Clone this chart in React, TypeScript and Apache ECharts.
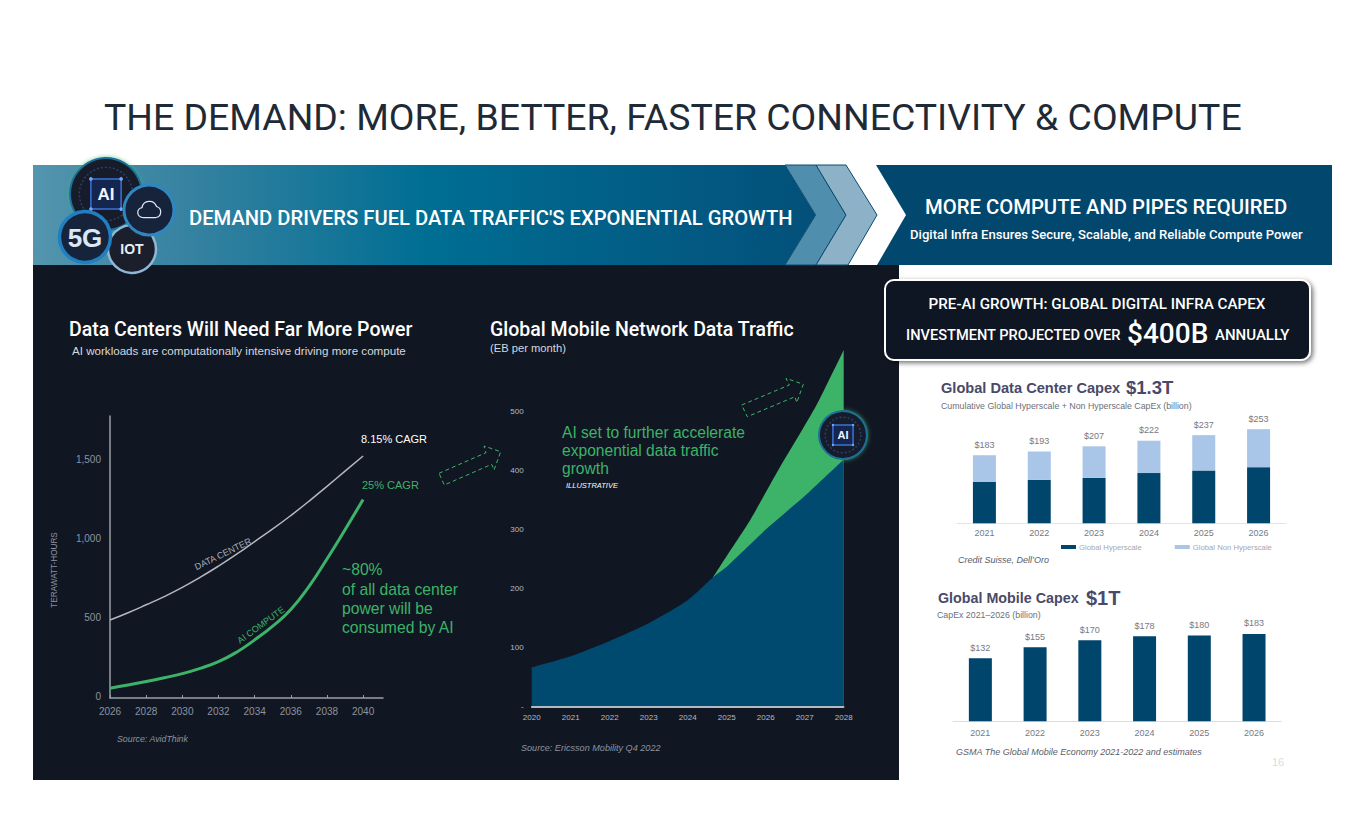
import React, { useEffect, useRef } from "react";
import * as echarts from "echarts";

const FONT = '"Liberation Sans", Arial, sans-serif';
const HEAD = 'Roboto, "Liberation Sans", sans-serif';

// Chart 1: power demand (TWh)
const powerYears = [2026, 2027, 2028, 2029, 2030, 2031, 2032, 2033, 2034, 2035, 2036, 2037, 2038, 2039, 2040];
const dataCenterTwh = [494, 540, 590, 642, 700, 765, 835, 910, 990, 1070, 1155, 1245, 1340, 1436, 1532];
const aiComputeTwh = [62, 82, 104, 128, 154, 188, 230, 290, 368, 455, 560, 705, 880, 1065, 1257];
const powerXTicks = [2026, 2028, 2030, 2032, 2034, 2036, 2038, 2040];
const powerYTicks = [0, 500, 1000, 1500];

// Chart 2: mobile traffic (EB per month)
const trafficYears = [2020, 2021, 2022, 2023, 2024, 2024.65, 2025, 2026, 2027, 2028];
const trafficBase = [66, 85, 111, 141, 180, 219, 237, 300, 357, 419];
const trafficAiYears = [2024.65, 2025, 2025.6, 2026.28, 2027.3, 2028];
const trafficWithAi = [219, 255, 316, 396, 511, 605];
const trafficXTicks = [2020, 2021, 2022, 2023, 2024, 2025, 2026, 2027, 2028];
const trafficYTicks = [0, 100, 200, 300, 400, 500];

// Chart 3: data center capex
const capexYears = ["2021", "2022", "2023", "2024", "2025", "2026"];
const hyperscale = [111, 117, 122, 135, 142, 151];
const nonHyperscale = [72, 76, 85, 87, 95, 102];
const capexTotals = [183, 193, 207, 222, 237, 253];

// Chart 4: mobile capex
const mobileCapex = [132, 155, 170, 178, 180, 183];

const BG = "#111722";
const GREEN = "#3cb368";
const NAVY = "#00456b";
const LIGHT = "#a9c6e8";
const SLATE = "#4a4a68";

type Extra = Record<string, any>;
const txt = (text: string, x: number, y: number, size: number, fill: string, extra: Extra = {}) => {
  const { weight, italic, align, rotation, z, family } = extra;
  return {
    type: "text",
    x,
    y,
    rotation: rotation ?? 0,
    z: z ?? 10,
    style: {
      text,
      fill,
      fontFamily: family ?? FONT,
      fontSize: size,
      fontWeight: weight ?? "normal",
      fontStyle: italic ? "italic" : "normal",
      textAlign: align ?? "left",
      textVerticalAlign: "middle",
    },
  };
};

const poly = (points: number[][], style: Extra, z = -1) => ({ type: "polygon", z, shape: { points }, style });
const circ = (cx: number, cy: number, r: number, fill: any, stroke: string, lineWidth: number, z: number, extra: Extra = {}) => ({
  type: "circle",
  z,
  shape: { cx, cy, r },
  style: { fill, stroke, lineWidth, ...extra },
});
const dashedArrow = (points: number[][]) =>
  poly(points, { fill: "none", stroke: GREEN, lineWidth: 1, lineDash: [4, 3] }, 10);

const aiBadge = (cx: number, cy: number, r: number, z: number, size: number) => {
  const h = r * 0.42;
  return [
    circ(cx, cy, r, "#141b2c", "#1f6f97", 2, z, { shadowBlur: 4, shadowColor: "rgba(60,179,104,0.7)" }),
    circ(cx, cy, r * 0.74, "none", "#2a3f6b", 1.5, z + 1, { lineDash: [2, 2] }),
    {
      type: "rect",
      z: z + 1,
      shape: { x: cx - h, y: cy - h, width: h * 2, height: h * 2 },
      style: { fill: "#14264f", stroke: "#3b72d6", lineWidth: 1.5 },
    },
    ...[[-1, -1], [1, -1], [-1, 1], [1, 1]].map(([a, b]) =>
      circ(cx + a * h, cy + b * h, r * 0.05, "#6fa8ff", "none", 0, z + 2)
    ),
    txt("AI", cx, cy, size, "#f0f4ff", { weight: "bold", align: "center", z: z + 2 }),
  ];
};

const App = () => {
  const ref = useRef<HTMLDivElement>(null);
  useEffect(() => {
    document.body.style.margin = "0";
    document.body.style.background = "#fff";
    echarts.graphic.registerShape(
      "cloudIcon",
      echarts.graphic.extendPath("M7 18a4 4 0 0 1-.6-7.95A6 6 0 0 1 18 9.2a4.5 4.5 0 0 1-.5 8.8Z", {})
    );
    const chart = echarts.init(ref.current!, undefined, { renderer: "svg" });
    const tickAxis = (ticks: number[], color: string, size: number, fmt?: (v: number) => string) => ({
      color,
      fontFamily: FONT,
      fontSize: size,
      customValues: ticks,
      formatter: fmt,
    });
    chart.setOption({
      animation: false,
      backgroundColor: "#ffffff",
      legend: {
        left: 1061,
        top: 543,
        itemWidth: 15,
        itemHeight: 4,
        itemGap: 33,
        icon: "rect",
        padding: 0,
        data: ["Global Hyperscale", "Global Non Hyperscale"],
        textStyle: { color: "#a3a8b2", fontSize: 7.7, fontFamily: FONT, padding: [0, 0, 0, -2] },
      },
      grid: [
        { left: 110, top: 416, width: 273, height: 282 },
        { left: 531.7, top: 347, width: 312, height: 359.3 },
        { left: 957, top: 405, width: 329, height: 118.3 },
        { left: 953, top: 602, width: 328.4, height: 119.3 },
      ],
      xAxis: [
        {
          type: "value",
          gridIndex: 0,
          min: 2026,
          max: 2041.1,
          splitLine: { show: false },
          axisLine: { lineStyle: { color: "#9a9ea6", width: 1.5 } },
          axisTick: { length: 3, inside: true, customValues: powerXTicks, lineStyle: { color: "#9a9ea6" } },
          axisLabel: { ...tickAxis(powerXTicks, "#8b93a1", 10, (v) => String(v)), margin: 8 },
        },
        {
          type: "value",
          gridIndex: 1,
          min: 2020,
          max: 2028,
          z: 5,
          splitLine: { show: false },
          axisLine: { lineStyle: { color: "#e8f0f6", width: 1.5 } },
          axisTick: { show: false },
          axisLabel: { ...tickAxis(trafficXTicks, "#b4bac4", 8, (v) => String(v)), margin: 7 },
        },
        {
          type: "category",
          gridIndex: 2,
          data: capexYears,
          axisLine: { lineStyle: { color: "#dbe6f1", width: 1 } },
          axisTick: { show: false },
          axisLabel: { color: "#77797f", fontSize: 9, fontFamily: FONT, margin: 5 },
        },
        {
          type: "category",
          gridIndex: 3,
          data: capexYears,
          axisLine: { lineStyle: { color: "#cfe2f2", width: 1 } },
          axisTick: { show: false },
          axisLabel: { color: "#77797f", fontSize: 9, fontFamily: FONT, margin: 7 },
        },
      ],
      yAxis: [
        {
          type: "value",
          gridIndex: 0,
          min: 0,
          max: 1785,
          splitLine: { show: false },
          axisLine: { show: true, lineStyle: { color: "#9a9ea6", width: 1.5 } },
          axisTick: { show: false },
          axisLabel: {
            ...tickAxis(powerYTicks, "#8b93a1", 10, (v) => v.toLocaleString("en-US")),
            margin: 9,
            verticalAlign: "bottom",
            lineHeight: 4,
          },
        },
        {
          type: "value",
          gridIndex: 1,
          min: 0,
          max: 610,
          splitLine: { show: false },
          axisLine: { show: false },
          axisTick: { show: false },
          axisLabel: { ...tickAxis(trafficYTicks, "#b4bac4", 8, (v) => (v === 0 ? "-" : String(v))), margin: 8 },
        },
        { type: "value", gridIndex: 2, min: 0, max: 318, show: false },
        { type: "value", gridIndex: 3, min: 0, max: 250, show: false },
      ],
      series: [
        {
          name: "Data Center",
          type: "line",
          xAxisIndex: 0,
          yAxisIndex: 0,
          showSymbol: false,
          smooth: true,
          lineStyle: { color: "#b4b8be", width: 1.5 },
          data: powerYears.map((y, i) => [y, dataCenterTwh[i]]),
        },
        {
          name: "AI Compute",
          type: "line",
          xAxisIndex: 0,
          yAxisIndex: 0,
          showSymbol: false,
          smooth: true,
          lineStyle: { color: GREEN, width: 3 },
          data: powerYears.map((y, i) => [y, aiComputeTwh[i]]),
        },
        {
          name: "With AI",
          type: "line",
          xAxisIndex: 1,
          yAxisIndex: 1,
          showSymbol: false,
          smooth: 0.2,
          lineStyle: { width: 0 },
          itemStyle: { color: GREEN },
          areaStyle: { color: GREEN, opacity: 1 },
          z: 2,
          data: trafficAiYears.map((y, i) => [y, trafficWithAi[i]]),
        },
        {
          name: "Base traffic",
          type: "line",
          xAxisIndex: 1,
          yAxisIndex: 1,
          showSymbol: false,
          smooth: 0.2,
          lineStyle: { width: 0 },
          itemStyle: { color: "#004a70" },
          areaStyle: { color: "#004a70", opacity: 1 },
          z: 3,
          data: trafficYears.map((y, i) => [y, trafficBase[i]]),
        },
        {
          name: "Global Hyperscale",
          type: "bar",
          stack: "capex",
          xAxisIndex: 2,
          yAxisIndex: 2,
          barWidth: 23,
          itemStyle: { color: NAVY },
          data: hyperscale,
        },
        {
          name: "Global Non Hyperscale",
          type: "bar",
          stack: "capex",
          xAxisIndex: 2,
          yAxisIndex: 2,
          barWidth: 23,
          itemStyle: { color: LIGHT },
          label: {
            show: true,
            position: "top",
            distance: 6,
            color: "#77797f",
            fontSize: 9,
            fontFamily: FONT,
            formatter: (p: any) => "$" + capexTotals[p.dataIndex],
          },
          data: nonHyperscale,
        },
        {
          name: "Global Mobile Capex",
          type: "bar",
          xAxisIndex: 3,
          yAxisIndex: 3,
          barWidth: 23,
          itemStyle: { color: NAVY },
          label: {
            show: true,
            position: "top",
            distance: 6,
            color: "#77797f",
            fontSize: 9,
            fontFamily: FONT,
            formatter: (p: any) => "$" + p.value,
          },
          data: mobileCapex,
        },
      ],
      graphic: {
        elements: [
          // Banner and panel
          {
            type: "rect",
            z: -1,
            shape: { x: 33, y: 265, width: 866, height: 515 },
            style: { fill: BG },
          },
          poly(
            [[33, 165], [785, 165], [815.6, 215], [785, 265], [33, 265]],
            {
              fill: {
                type: "linear",
                x: 0,
                y: 0,
                x2: 1,
                y2: 0,
                colorStops: [
                  { offset: 0, color: "#5495ae" },
                  { offset: 0.22, color: "#32809f" },
                  { offset: 0.5, color: "#006e93" },
                  { offset: 1, color: "#03507a" },
                ],
              },
            }
          ),
          poly([[785, 165], [816, 165], [846, 215], [816, 265], [785, 265], [815.6, 215]], {
            fill: "#4f8ead",
            stroke: "#0a4a70",
            lineWidth: 1,
          }),
          poly([[816, 165], [846, 165], [877, 215], [848, 265], [816, 265], [846, 215]], {
            fill: "#8db1c6",
            stroke: "#0a4a70",
            lineWidth: 1,
          }),
          poly([[876, 165], [1332, 165], [1332, 265], [877, 265], [906, 215]], { fill: "#02476e" }),

          // Title
          txt("THE DEMAND: MORE, BETTER, FASTER CONNECTIVITY & COMPUTE", 104, 117, 37.4, "#1f2a37", { family: HEAD, weight: 400 }),

          // Banner texts
          txt("DEMAND DRIVERS FUEL DATA TRAFFIC'S EXPONENTIAL GROWTH", 189, 218, 20.2, "#ffffff", { family: HEAD, weight: 500 }),
          txt("MORE COMPUTE AND PIPES REQUIRED", 925, 207, 20.3, "#ffffff", { family: HEAD, weight: 500 }),
          txt("Digital Infra Ensures Secure, Scalable, and Reliable Compute Power", 910, 234, 13.1, "#ffffff", { family: HEAD, weight: 500 }),

          // Badges
          ...aiBadge(106, 194, 36, 11, 17),
          circ(149, 210, 25, "#16233a", "#2f86c0", 3, 15),
          {
            type: "cloudIcon",
            z: 16,
            x: 134,
            y: 195,
            scaleX: 1.25,
            scaleY: 1.25,
            style: { fill: "none", stroke: "#dbe9f5", lineWidth: 1 },
          },
          circ(132, 249, 24, "#1a1f2b", "#8fb7d6", 2.5, 12),
          txt("IOT", 132, 249, 14, "#e8eef4", { weight: "bold", align: "center", z: 13 }),
          circ(85, 237, 25.5, "#16233a", "#1f7fc0", 3.5, 14),
          txt("5G", 85, 238, 26, "#dbe7f2", { weight: "bold", align: "center", z: 15 }),

          // Panel box
          {
            type: "rect",
            z: 9,
            shape: { x: 885, y: 280, width: 425, height: 80, r: 9 },
            style: {
              fill: BG,
              stroke: "#ffffff",
              lineWidth: 2,
              shadowBlur: 5,
              shadowColor: "rgba(0,0,0,0.55)",
              shadowOffsetX: 2,
              shadowOffsetY: 2,
            },
          },
          txt("PRE-AI GROWTH: GLOBAL DIGITAL INFRA CAPEX", 1097, 304, 15.2, "#ffffff", { align: "center", family: HEAD, weight: 500 }),
          txt("INVESTMENT PROJECTED OVER", 906, 335, 14.6, "#ffffff", { family: HEAD, weight: 500 }),
          txt("$400B", 1127, 333, 28, "#ffffff", { family: HEAD, weight: 500 }),
          txt("ANNUALLY", 1215, 335, 15, "#ffffff", { family: HEAD, weight: 500 }),

          // Chart 1 texts
          txt("Data Centers Will Need Far More Power", 69, 329, 19.5, "#ffffff", { family: HEAD, weight: 500 }),
          txt("AI workloads are computationally intensive driving more compute", 72, 350, 11.6, "#d5d8de"),
          txt("TERAWATT-HOURS", 54, 570, 8.2, "#8b93a1", { align: "center", rotation: Math.PI / 2 }),
          txt("8.15% CAGR", 361, 439, 11, "#ffffff"),
          txt("25% CAGR", 362, 485, 11, GREEN),
          txt("DATA CENTER", 223, 554, 9, "#a9adb4", { align: "center", rotation: (26 * Math.PI) / 180 }),
          txt("AI COMPUTE", 261, 625, 9, GREEN, { align: "center", rotation: (36 * Math.PI) / 180 }),
          txt("~80%", 342, 569, 15.7, GREEN),
          txt("of all data center", 342, 589, 15.7, GREEN),
          txt("power will be", 342, 608, 15.7, GREEN),
          txt("consumed by AI", 342, 627, 15.7, GREEN),
          txt("Source: AvidThink", 117, 739, 8.8, "#8b93a1", { italic: true }),
          dashedArrow([[439, 473.3], [486, 452.7], [484, 446], [500.7, 451.7], [494, 470], [491.7, 464.3], [444.3, 485]]),

          // Chart 2 texts
          txt("Global Mobile Network Data Traffic", 490, 329, 19.5, "#ffffff", { family: HEAD, weight: 500 }),
          txt("(EB per month)", 490, 348, 11.2, "#d5d8de"),
          txt("AI set to further accelerate", 562, 432, 15.6, GREEN),
          txt("exponential data traffic", 562, 450, 15.6, GREEN),
          txt("growth", 562, 468, 15.6, GREEN),
          txt("ILLUSTRATIVE", 566, 485, 7.5, "#ffffff", { italic: true }),
          txt("Source: Ericsson Mobility Q4 2022", 521, 748, 9.1, "#8b93a1", { italic: true }),
          dashedArrow([[741.7, 405], [789.3, 385], [786, 378.3], [803.3, 384.3], [796.7, 402.7], [795, 396.7], [747.3, 416.7]]),
          ...aiBadge(843, 435, 24, 11, 11),

          // Chart 3 texts
          txt("Global Data Center Capex", 941, 388, 14.6, SLATE, { weight: "bold" }),
          txt("$1.3T", 1126, 387, 18.5, SLATE, { weight: "bold" }),
          txt("Cumulative Global Hyperscale + Non Hyperscale CapEx (billion)", 941, 406, 8.8, "#6b6f7a"),
          txt("Credit Suisse, Dell\u2019Oro", 958, 560, 9, "#5a5d66", { italic: true }),

          // Chart 4 texts
          txt("Global Mobile Capex", 938, 598, 14.3, SLATE, { weight: "bold" }),
          txt("$1T", 1086, 598, 20, SLATE, { weight: "bold" }),
          txt("CapEx 2021\u20132026 (billion)", 937, 615, 8.8, "#6b6f7a"),
          txt("GSMA The Global Mobile Economy 2021-2022 and estimates", 956, 752, 9, "#5a5d66", { italic: true }),
          txt("16", 1272, 762, 11, "#dcdcdc"),
        ],
      },
    });
    return () => chart.dispose();
  }, []);
  return <div ref={ref} style={{ position: "absolute", left: 0, top: 0, width: 1365, height: 829 }} />;
};

export default App;
